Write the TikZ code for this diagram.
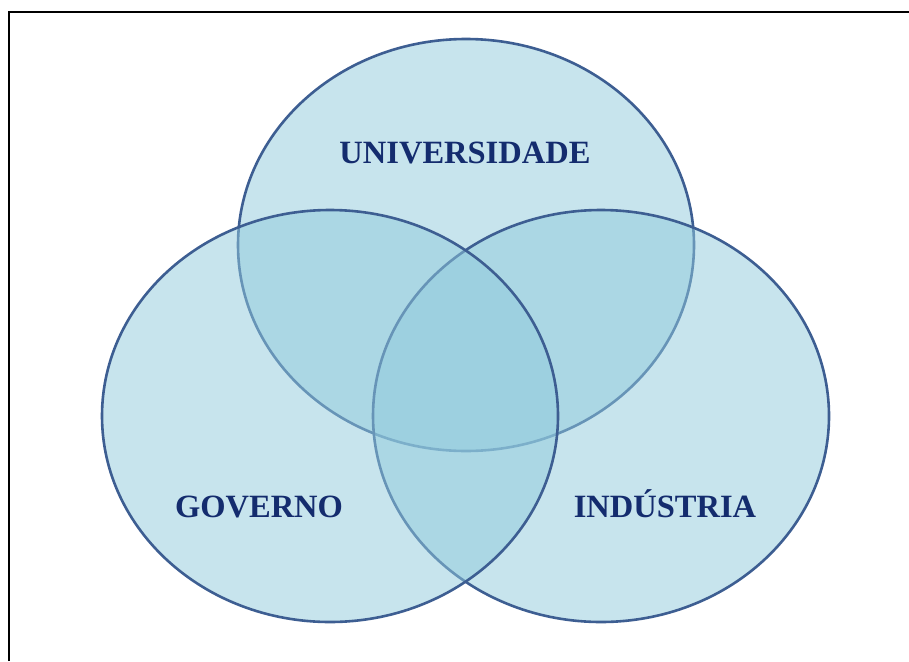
\documentclass[tikz,border=0pt]{standalone}
\usepackage{fontspec}
\setmainfont{Liberation Serif}
\usetikzlibrary{shapes.geometric,positioning}
\definecolor{ringblue}{HTML}{3D5E92}
\definecolor{fillblue}{RGB}{145,203,221}
\definecolor{textblue}{HTML}{142C6E}
\newcommand{\setwidth}{456pt}
\newcommand{\setheight}{412pt}
\tikzset{
    setsty/.style={ellipse,draw=ringblue,line width=2.6pt,fill=fillblue,fill opacity=0.5,
                   minimum width=\setwidth,minimum height=\setheight,inner sep=0pt,anchor=center},
    namesty/.style={text=textblue,font=\fontsize{32.5}{32.5}\selectfont\bfseries,anchor=base,inner sep=0pt},
    framesty/.style={draw=black,line width=2pt},
}

\begin{document}
\begin{tikzpicture}[x=1pt,y=-1pt]
% page area
\fill[white] (0,0) rectangle (909,661);
\useasboundingbox (0,0) rectangle (909,661);

% the three sets
\node[setsty] (U) at (466,245) {};
\node[setsty] (I) at (601,416) {};
\node[setsty] (G) at (330,416) {};

% set names
\node[namesty] (Ulab) at (465,163) {UNIVERSIDADE};
\node[namesty] (Glab) at (259,517) {GOVERNO};
\node[namesty] (Ilab) at (665,517) {INDÚSTRIA};

% frame
\draw[framesty] (8.5,661) -- (8.5,12) -- (909,12);
\end{tikzpicture}
\end{document}
